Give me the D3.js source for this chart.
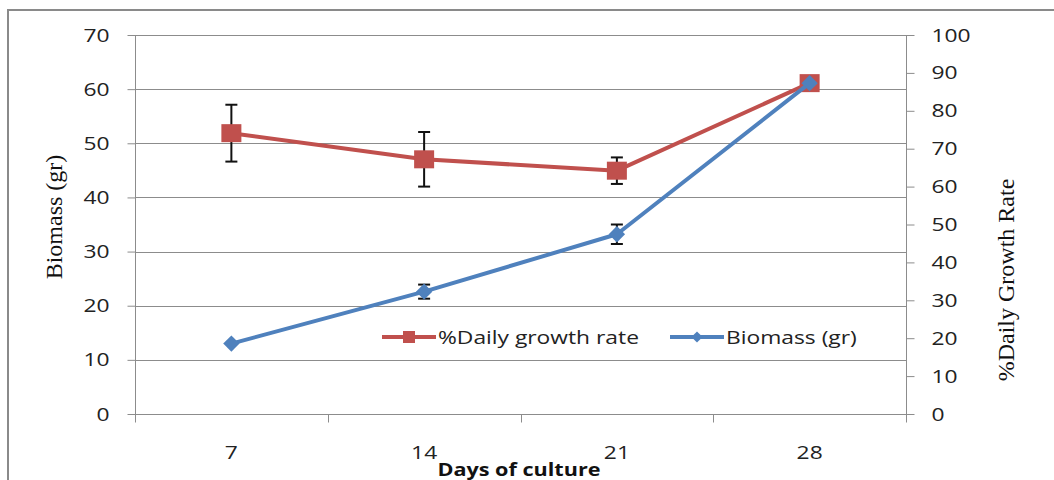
<!DOCTYPE html>
<html>
<head>
<meta charset="utf-8">
<script src="https://cdn.jsdelivr.net/npm/d3@7"></script>
<style>
  html, body { margin: 0; padding: 0; background: #fff; }
  svg { display: block; }
</style>
</head>
<body>
<svg id="chart" width="1054" height="480"></svg>
<script>
// ---- data ----
const days = ["7", "14", "21", "28"];
const growthRate = [74.1, 67.2, 64.2, 87.3];      // right axis (%)
const growthErr  = [7.5, 7.2, 3.5, 1.5];
const biomass    = [13.0, 22.6, 33.2, 61.1];      // left axis (gr)
const biomassErr = [0.0, 1.3, 1.8, 1.2];
const leftTicks  = [0, 10, 20, 30, 40, 50, 60, 70];
const rightTicks = [0, 10, 20, 30, 40, 50, 60, 70, 80, 90, 100];
const seriesNames = ["%Daily growth rate", "Biomass (gr)"];
const xTitle = "Days of culture";
const yLeftTitle = "Biomass (gr)";
const yRightTitle = "%Daily Growth Rate";

// ---- layout ----
const svg = d3.select("#chart");
const L = 135, R = 906, T = 35, B = 414;
const red = "#C0504D", blue = "#4F81BD", grid = "#8c8c8c";
const tickFont = "'Open Sans', sans-serif";
const STRETCH = 1.2;

function stretch(sel) {
  sel.each(function () {
    const w = this.getComputedTextLength();
    d3.select(this).attr("textLength", w * STRETCH).attr("lengthAdjust", "spacingAndGlyphs");
  });
}

const x = d3.scaleBand().domain(days).range([L, R]).padding(0);
const yL = d3.scaleLinear().domain([0, 70]).range([B, T]);
const yR = d3.scaleLinear().domain([0, 100]).range([B, T]);
const cx = d => x(d) + x.bandwidth() / 2;

// outer frame
svg.append("path")
  .attr("d", "M8,480 L8,10 L1054,10")
  .attr("fill", "none").attr("stroke", "#8a8a8a").attr("stroke-width", 2);

// gridlines
svg.append("g").selectAll("line").data(leftTicks).join("line")
  .attr("x1", L).attr("x2", R)
  .attr("y1", d => Math.round(yL(d)) + 0.5).attr("y2", d => Math.round(yL(d)) + 0.5)
  .attr("stroke", grid).attr("stroke-width", 1);

// left axis
const axL = svg.append("g").attr("transform", `translate(${L + 0.5},0)`)
  .call(d3.axisLeft(yL).tickValues(leftTicks).tickSize(8).tickPadding(18));
// right axis
const axR = svg.append("g").attr("transform", `translate(${R + 0.5},0)`)
  .call(d3.axisRight(yR).tickValues(rightTicks).tickSize(8).tickPadding(17));
// bottom axis (category boundaries as ticks)
const axB = svg.append("g").attr("transform", `translate(0,${B + 0.5})`)
  .call(d3.axisBottom(x).tickSize(0).tickPadding(31));
axB.selectAll("line.bound").data(d3.range(days.length + 1)).join("line")
  .attr("class", "bound")
  .attr("x1", i => Math.round(L + i * x.bandwidth()) + 0.5)
  .attr("x2", i => Math.round(L + i * x.bandwidth()) + 0.5)
  .attr("y1", 0).attr("y2", 8)
  .attr("stroke", grid);

[axL, axR, axB].forEach(a => {
  a.select(".domain").attr("stroke", grid).attr("stroke-width", 1);
  a.selectAll(".tick line").attr("stroke", grid);
  a.selectAll("text").attr("font-family", tickFont).attr("font-size", 19).attr("fill", "#222").call(stretch);
});
axL.select(".domain").attr("d", `M0,${T}V${B + 8}`);
axR.select(".domain").attr("d", `M0,${T}V${B + 8}`);
axB.select(".domain").remove();

// axis titles
svg.append("text")
  .attr("transform", "translate(62,217) rotate(-90)")
  .attr("text-anchor", "middle")
  .attr("font-family", "'Liberation Serif', 'Times New Roman', serif")
  .attr("font-size", 24).attr("fill", "#111")
  .text(yLeftTitle);
svg.append("text")
  .attr("transform", "translate(1014,280) rotate(-90)")
  .attr("text-anchor", "middle")
  .attr("font-family", "'Liberation Serif', 'Times New Roman', serif")
  .attr("font-size", 24).attr("fill", "#111")
  .text(yRightTitle);
svg.append("text")
  .attr("x", 519).attr("y", 476)
  .attr("text-anchor", "middle")
  .attr("font-family", tickFont).attr("font-weight", "bold")
  .attr("font-size", 18).attr("fill", "#111")
  .text(xTitle).call(stretch);

// legend
const lg = svg.append("g");
lg.append("rect").attr("x", 376).attr("y", 318).attr("width", 492).attr("height", 38).attr("fill", "#fff");
const leg = [
  { name: seriesNames[0], color: red, shape: "square", x0: 382 },
  { name: seriesNames[1], color: blue, shape: "diamond", x0: 670 }
];
leg.forEach(l => {
  lg.append("line").attr("x1", l.x0).attr("x2", l.x0 + 54).attr("y1", 337).attr("y2", 337)
    .attr("stroke", l.color).attr("stroke-width", 4);
  if (l.shape === "square") {
    lg.append("rect").attr("x", l.x0 + 21).attr("y", 331).attr("width", 12).attr("height", 12).attr("fill", l.color);
  } else {
    lg.append("path").attr("d", d3.symbol(d3.symbolDiamond2, 80)())
      .attr("transform", `translate(${l.x0 + 27},337)`).attr("fill", l.color);
  }
  lg.append("text").attr("x", l.x0 + 56).attr("y", 337).attr("dy", "0.35em")
    .attr("font-family", tickFont).attr("font-size", 19).attr("fill", "#222")
    .text(l.name).call(stretch);
});

// series
function drawErr(vals, errs, scale) {
  const g = svg.append("g").attr("stroke", "#111").attr("stroke-width", 2);
  days.forEach((d, i) => {
    if (!errs[i]) return;
    const X = cx(d), y1 = scale(vals[i] + errs[i]), y2 = scale(vals[i] - errs[i]);
    g.append("line").attr("x1", X).attr("x2", X).attr("y1", y1).attr("y2", y2);
    g.append("line").attr("x1", X - 6).attr("x2", X + 6).attr("y1", y1).attr("y2", y1);
    g.append("line").attr("x1", X - 6).attr("x2", X + 6).attr("y1", y2).attr("y2", y2);
  });
}
drawErr(growthRate, growthErr, yR);
drawErr(biomass, biomassErr, yL);

const line = scale => d3.line().x((v, i) => cx(days[i])).y(v => scale(v));
svg.append("path").datum(growthRate).attr("d", line(yR))
  .attr("fill", "none").attr("stroke", red).attr("stroke-width", 4).attr("stroke-linejoin", "round");
svg.append("g").selectAll("rect").data(growthRate).join("rect")
  .attr("x", (v, i) => cx(days[i]) - 10).attr("y", v => yR(v) - 9)
  .attr("width", 20).attr("height", 18).attr("fill", red);

svg.append("path").datum(biomass).attr("d", line(yL))
  .attr("fill", "none").attr("stroke", blue).attr("stroke-width", 4).attr("stroke-linejoin", "round");
svg.append("g").selectAll("path").data(biomass).join("path")
  .attr("d", d3.symbol(d3.symbolDiamond2, 170)())
  .attr("transform", (v, i) => `translate(${cx(days[i])},${yL(v)})`)
  .attr("fill", blue);
</script>
</body>
</html>
